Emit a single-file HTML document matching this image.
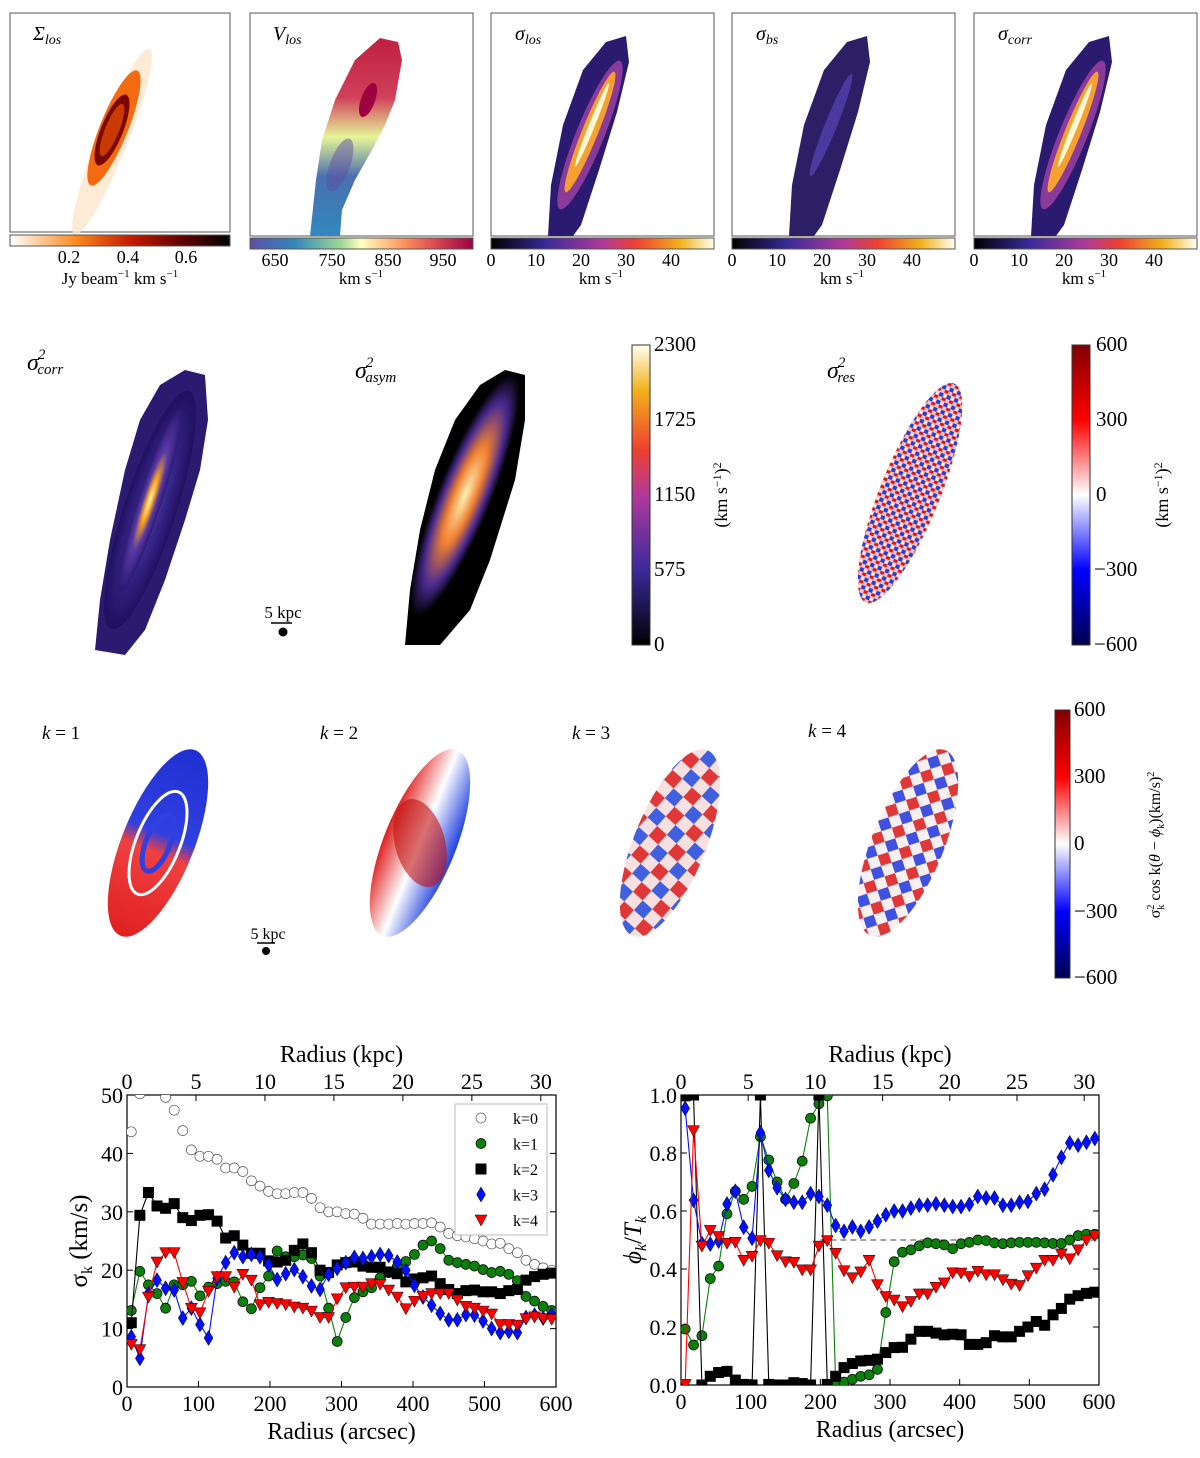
<!DOCTYPE html>
<html><head><meta charset="utf-8"><style>
body{margin:0;background:#fff}
svg{display:block;font-family:"Liberation Serif",serif}
</style></head><body>
<svg id="fig" width="1200" height="1458" viewBox="0 0 1200 1458" xmlns="http://www.w3.org/2000/svg">
<defs>
<linearGradient id="gOr" x1="0" x2="1"><stop offset="0" stop-color="#fff"/><stop offset="0.3" stop-color="#fb8a1e"/><stop offset="0.55" stop-color="#c41a00"/><stop offset="0.8" stop-color="#5a0000"/><stop offset="1" stop-color="#000"/></linearGradient>
<linearGradient id="gSp" x1="0" x2="1"><stop offset="0" stop-color="#5e4fa2"/><stop offset="0.2" stop-color="#3288bd"/><stop offset="0.4" stop-color="#99d594"/><stop offset="0.5" stop-color="#ffffbf"/><stop offset="0.7" stop-color="#fc8d59"/><stop offset="0.85" stop-color="#d53e4f"/><stop offset="1" stop-color="#9e0142"/></linearGradient>
<linearGradient id="gCm" x1="0" x2="1"><stop offset="0" stop-color="#000"/><stop offset="0.25" stop-color="#3a2a9a"/><stop offset="0.5" stop-color="#b03a9a"/><stop offset="0.65" stop-color="#ee4030"/><stop offset="0.85" stop-color="#f2b21c"/><stop offset="1" stop-color="#fffff0"/></linearGradient>
<linearGradient id="gCmV" x1="0" y1="1" x2="0" y2="0"><stop offset="0" stop-color="#000"/><stop offset="0.25" stop-color="#3a2a9a"/><stop offset="0.5" stop-color="#b03a9a"/><stop offset="0.65" stop-color="#ee4030"/><stop offset="0.85" stop-color="#f2b21c"/><stop offset="1" stop-color="#fffff0"/></linearGradient>
<linearGradient id="gSeV" x1="0" y1="1" x2="0" y2="0"><stop offset="0" stop-color="#00004c"/><stop offset="0.25" stop-color="#0000ff"/><stop offset="0.5" stop-color="#fff"/><stop offset="0.75" stop-color="#ff0000"/><stop offset="1" stop-color="#800000"/></linearGradient>
<linearGradient id="lVel" x1="0" y1="1" x2="0" y2="0"><stop offset="0" stop-color="#3288bd"/><stop offset="0.3" stop-color="#4a6fb0"/><stop offset="0.5" stop-color="#e6f598"/><stop offset="0.7" stop-color="#d0405a"/><stop offset="1" stop-color="#c02040"/></linearGradient>
<radialGradient id="rCm"><stop offset="0" stop-color="#fff8c0"/><stop offset="0.25" stop-color="#f5a020"/><stop offset="0.55" stop-color="#5a3aa8"/><stop offset="1" stop-color="#2a1a70"/></radialGradient>
<radialGradient id="rCmD"><stop offset="0" stop-color="#d070a0"/><stop offset="0.4" stop-color="#3a2a90"/><stop offset="1" stop-color="#201060"/></radialGradient>
<radialGradient id="rAs"><stop offset="0" stop-color="#fff0b0"/><stop offset="0.4" stop-color="#f08030"/><stop offset="0.75" stop-color="#4a2a90"/><stop offset="1" stop-color="#000"/></radialGradient>
<pattern id="pRes" width="8" height="8" patternUnits="userSpaceOnUse"><rect width="8" height="8" fill="#f4c0c0"/><rect x="0" y="0" width="4" height="3" fill="#d81818"/><rect x="4" y="4" width="4" height="4" fill="#2040e0"/><rect x="1" y="5" width="2" height="2" fill="#fff"/></pattern>
<linearGradient id="k1" x1="0" y1="1" x2="0" y2="0"><stop offset="0" stop-color="#e02020"/><stop offset="0.45" stop-color="#f04040"/><stop offset="0.55" stop-color="#3040e0"/><stop offset="1" stop-color="#2030d0"/></linearGradient>
<linearGradient id="k2" x1="0" y1="0" x2="1" y2="0"><stop offset="0" stop-color="#e02020"/><stop offset="0.5" stop-color="#fff"/><stop offset="1" stop-color="#2040e0"/></linearGradient>
<pattern id="k3" width="26" height="26" patternUnits="userSpaceOnUse" patternTransform="rotate(20)"><rect width="26" height="26" fill="#f8e0e0"/><rect width="13" height="13" fill="#4060e0"/><rect x="13" y="13" width="13" height="13" fill="#e03838"/></pattern>
<pattern id="k4" width="22" height="22" patternUnits="userSpaceOnUse" patternTransform="rotate(50)"><rect width="22" height="22" fill="#f8f0f0"/><rect width="11" height="11" fill="#e03838"/><rect x="11" y="11" width="11" height="11" fill="#4050e0"/></pattern>
<clipPath id="clipL"><rect x="127" y="1095" width="429" height="292"/></clipPath>
<clipPath id="clipR"><rect x="681" y="1095" width="418" height="290"/></clipPath>
</defs>

<!-- Top row -->
<g>
<rect x="10" y="13" width="220" height="219" fill="#fff" stroke="#555" stroke-width="1"/>
<ellipse cx="112" cy="142" rx="15" ry="100" transform="rotate(22 112 142)" fill="#fde6cc" opacity="0.8"/>
<ellipse cx="114" cy="128" rx="14" ry="62" transform="rotate(22 114 128)" fill="#f46a10"/>
<ellipse cx="112" cy="130" rx="11" ry="38" transform="rotate(22 112 130)" fill="#7a0800"/>
<ellipse cx="112" cy="130" rx="7" ry="28" transform="rotate(22 112 130)" fill="#c83a00"/>
<text x="33" y="40" font-size="20" font-style="italic">Σ<tspan font-size="14" dy="4">los</tspan></text>
<rect x="10" y="235" width="220" height="11" fill="url(#gOr)" stroke="#555"/>
<text font-size="18" text-anchor="middle" y="263"><tspan x="69">0.2</tspan><tspan x="128">0.4</tspan><tspan x="186">0.6</tspan></text>
<text x="120" y="284" font-size="17" text-anchor="middle">Jy beam<tspan font-size="11" dy="-7">−1</tspan><tspan dy="7"> km s</tspan><tspan font-size="11" dy="-7">−1</tspan></text>
</g>
<g>
<rect x="250" y="13" width="223" height="223" fill="#fff" stroke="#555"/>
<path d="M310,236 L316,180 L322,140 L335,100 L355,60 L380,38 L398,42 L402,60 L395,100 L385,125 L372,150 L355,180 L342,210 L340,236 Z" fill="url(#lVel)"/>
<ellipse cx="368" cy="100" rx="7" ry="18" transform="rotate(20 368 100)" fill="#9e0142"/>
<ellipse cx="340" cy="165" rx="10" ry="28" transform="rotate(20 340 165)" fill="#5e4fa2" opacity="0.5"/>
<text x="273" y="40" font-size="20" font-style="italic">V<tspan font-size="14" dy="4">los</tspan></text>
<rect x="250" y="238" width="223" height="11" fill="url(#gSp)" stroke="#555"/>
<text font-size="18" text-anchor="middle" y="266"><tspan x="275">650</tspan><tspan x="332">750</tspan><tspan x="388">850</tspan><tspan x="443">950</tspan></text>
<text x="361" y="284" font-size="17" text-anchor="middle">km s<tspan font-size="11" dy="-7">−1</tspan></text>
</g>
<g id="disp"></g>

<!-- Middle row -->
<g>
<path d="M95,650 L100,600 L110,540 L125,470 L140,420 L160,385 L185,370 L205,375 L208,420 L200,470 L185,520 L165,580 L145,630 L125,655 Z" fill="#2a1a70"/>
<ellipse cx="150" cy="510" rx="26" ry="125" transform="rotate(18 150 510)" fill="url(#rCmD)"/>
<ellipse cx="150" cy="500" rx="12" ry="95" transform="rotate(18 150 500)" fill="url(#rCm)"/>
<text x="27" y="370" font-size="24" font-style="italic">σ<tspan font-size="15" dx="-1" dy="-11">2</tspan><tspan font-size="15" dx="-8" dy="15">corr</tspan></text>
<text x="283" y="618" font-size="17" text-anchor="middle">5 kpc</text>
<line x1="271" y1="623" x2="292" y2="623" stroke="#000" stroke-width="1.5"/>
<circle cx="283" cy="632" r="4.5" fill="#000"/>
</g>
<g>
<path d="M405,645 L410,590 L420,530 L435,470 L455,420 L480,385 L505,370 L525,375 L525,420 L515,480 L490,560 L470,610 L440,645 Z" fill="#000"/>
<ellipse cx="465" cy="495" rx="27" ry="130" transform="rotate(22 465 495)" fill="url(#rAs)"/>
<text x="355" y="378" font-size="24" font-style="italic">σ<tspan font-size="15" dx="-1" dy="-11">2</tspan><tspan font-size="15" dx="-8" dy="15">asym</tspan></text>
<rect x="632" y="345" width="18" height="300" fill="url(#gCmV)" stroke="#333"/>
<text font-size="21" x="654"><tspan y="351">2300</tspan><tspan x="654" y="426">1725</tspan><tspan x="654" y="501">1150</tspan><tspan x="654" y="576">575</tspan><tspan x="654" y="651">0</tspan></text>
<text transform="translate(727 495) rotate(-90)" font-size="18" text-anchor="middle">(km s<tspan font-size="12" dy="-6">−1</tspan><tspan dy="6">)</tspan><tspan font-size="12" dy="-6">2</tspan></text>
</g>
<g>
<ellipse cx="910" cy="493" rx="30" ry="118" transform="rotate(22 910 493)" fill="url(#pRes)"/>
<text x="827" y="378" font-size="24" font-style="italic">σ<tspan font-size="15" dx="-1" dy="-11">2</tspan><tspan font-size="15" dx="-8" dy="15">res</tspan></text>
<rect x="1072" y="345" width="18" height="300" fill="url(#gSeV)" stroke="#333"/>
<text font-size="21" x="1096"><tspan y="351">600</tspan><tspan x="1096" y="426">300</tspan><tspan x="1096" y="501">0</tspan><tspan x="1094" y="576">−300</tspan><tspan x="1094" y="651">−600</tspan></text>
<text transform="translate(1168 495) rotate(-90)" font-size="18" text-anchor="middle">(km s<tspan font-size="12" dy="-6">−1</tspan><tspan dy="6">)</tspan><tspan font-size="12" dy="-6">2</tspan></text>
</g>

<!-- Third row -->
<g>
<ellipse cx="158" cy="843" rx="36" ry="100" transform="rotate(22 158 843)" fill="url(#k1)"/>
<ellipse cx="158" cy="843" rx="22" ry="55" transform="rotate(22 158 843)" fill="none" stroke="#fff" stroke-width="3"/>
<ellipse cx="158" cy="843" rx="12" ry="30" transform="rotate(22 158 843)" fill="none" stroke="#3040e0" stroke-width="5"/>
<text x="42" y="739" font-size="19" font-style="italic">k<tspan font-style="normal"> = 1</tspan></text>
<text x="268" y="939" font-size="16" text-anchor="middle">5 kpc</text>
<line x1="257" y1="943" x2="275" y2="943" stroke="#000" stroke-width="1.5"/>
<circle cx="266" cy="951" r="4" fill="#000"/>
<ellipse cx="420" cy="843" rx="36" ry="100" transform="rotate(22 420 843)" fill="url(#k2)"/>
<ellipse cx="420" cy="843" rx="25" ry="45" transform="rotate(-15 420 843)" fill="#c01010" opacity="0.6"/>
<text x="320" y="739" font-size="19" font-style="italic">k<tspan font-style="normal"> = 2</tspan></text>
<ellipse cx="670" cy="843" rx="36" ry="100" transform="rotate(22 670 843)" fill="url(#k3)"/>
<text x="572" y="739" font-size="19" font-style="italic">k<tspan font-style="normal"> = 3</tspan></text>
<ellipse cx="908" cy="843" rx="36" ry="100" transform="rotate(22 908 843)" fill="url(#k4)"/>
<text x="808" y="737" font-size="19" font-style="italic">k<tspan font-style="normal"> = 4</tspan></text>
<rect x="1055" y="710" width="15" height="268" fill="url(#gSeV)" stroke="#333"/>
<text font-size="21" x="1074"><tspan y="716">600</tspan><tspan x="1074" y="783">300</tspan><tspan x="1074" y="850">0</tspan><tspan x="1074" y="918">−300</tspan><tspan x="1074" y="984">−600</tspan></text>
<text transform="translate(1160 845) rotate(-90)" font-size="16" text-anchor="middle">σ<tspan font-size="10" dy="4">k</tspan><tspan font-size="10" dx="-5" dy="-10">2</tspan><tspan dy="6"> cos k(</tspan><tspan font-style="italic">θ</tspan> − <tspan font-style="italic">ϕ</tspan><tspan font-size="10" dy="4">k</tspan><tspan dy="-4">)(km/s)</tspan><tspan font-size="10" dy="-6">2</tspan></text>
</g>

<g id="chartL"></g>
<g id="chartR"></g>
</svg>
<script>
const radii = [];
for (let i = 0; i < 50; i++) radii.push(6 + 12 * i);
const sigK0 = [43.7,50.2,52,51,49.6,47.4,43.9,40.6,39.5,39.5,39,37.5,37.5,36.9,35.3,34.4,33.5,33.1,33.1,33.3,33.3,32.3,30.7,30,30,29.7,29.6,28.9,27.9,27.9,27.9,28,27.9,28,28,28.1,27.4,26.3,25.9,25.7,25.4,25,24.5,24.6,23.7,23,21.7,21,20.4,20];
const sigK1 = [13.1,19.8,17.5,16,13.5,17.5,17.5,18.1,15.6,17.1,17.7,18.1,18,14.6,13.4,17,19,23.3,22.3,22.3,22.6,22,19,13.5,7.8,11.9,15.3,16.3,17,18.7,19.6,20.6,21.5,22.7,24.3,25,23.7,21.7,21.3,21,20.7,20.1,19.6,19.8,19.3,18.2,15.5,14.7,13.8,13.1];
const sigK2 = [11,29.4,33.3,31,30.6,31.4,29,28.5,29.4,29.5,28.4,25.5,25.9,24.3,22.9,22.9,21.6,21.4,21.7,23.4,24.5,23,20,19.6,20.9,21.3,21.4,20.7,20.5,20.5,19.7,19.4,18,18.5,18.7,19,17.7,16.7,16,16.5,16.6,16.3,16.3,16,16.5,16.7,18.3,18.9,19.3,19.5];
const sigK3 = [8.6,4.9,16,18.3,16.9,16.6,11.8,13.5,10.7,8.4,18.6,21.3,23,22.3,22.7,22.3,20.9,18.4,19.4,20.1,18.9,17.3,16.7,19.3,20.3,21.3,22.2,22,22.3,22.7,22.5,21.4,20,17.4,15.4,14,12.6,11.5,11.5,12.4,12.3,11.3,10,9.3,9.5,9.3,11.9,12.3,11.8,12.4];
const sigK4 = [7.3,6.4,15.4,21.4,23,23,17.9,13.5,12.7,16.4,18.9,18.9,17.1,19.3,18.3,14.1,14.5,14.3,14.1,13.7,13.5,13,11.9,11.9,15.1,17,17.1,17.1,17.7,17.6,16.6,15.4,13.4,14.7,15.5,16,16,16,14.9,13.8,13.5,13,12.5,10.7,10.7,10.6,11.7,12,11.7,11.6];
const phK1 = [0.193,0.138,0.17,0.367,0.41,0.59,0.668,0.64,0.685,0.856,0.776,0.7,0.64,0.695,0.772,0.92,0.97,0.997,0.002,0.01,0.02,0.03,0.035,0.054,0.25,0.425,0.458,0.466,0.48,0.49,0.487,0.483,0.47,0.487,0.492,0.5,0.498,0.49,0.487,0.49,0.492,0.492,0.492,0.49,0.488,0.488,0.5,0.515,0.52,0.52];
const phK2 = [0.997,1.0,0.0,0.03,0.043,0.047,0.017,0.002,0,1.0,0.002,0,0,0.008,0.005,0,1.0,0.002,0.03,0.06,0.074,0.083,0.085,0.089,0.112,0.129,0.13,0.158,0.185,0.185,0.179,0.173,0.175,0.173,0.14,0.14,0.146,0.17,0.166,0.166,0.185,0.2,0.219,0.206,0.242,0.264,0.296,0.308,0.316,0.32];
const phK3 = [0.954,0.637,0.488,0.486,0.496,0.624,0.668,0.544,0.506,0.87,0.74,0.68,0.64,0.63,0.63,0.66,0.65,0.62,0.55,0.53,0.545,0.53,0.545,0.565,0.587,0.6,0.6,0.61,0.62,0.62,0.625,0.62,0.615,0.615,0.623,0.65,0.645,0.645,0.62,0.62,0.63,0.633,0.66,0.675,0.725,0.785,0.835,0.827,0.837,0.85];
const phK4 = [0.002,0.877,0.479,0.533,0.512,0.489,0.492,0.43,0.444,0.498,0.489,0.446,0.425,0.423,0.397,0.397,0.479,0.498,0.454,0.394,0.37,0.39,0.43,0.346,0.305,0.293,0.27,0.288,0.314,0.314,0.337,0.352,0.387,0.386,0.374,0.392,0.38,0.38,0.363,0.348,0.343,0.377,0.403,0.43,0.43,0.452,0.435,0.466,0.5,0.515];
const xTicks = [0,100,200,300,400,500,600];
const kpcTicks = [0,5,10,15,20,25,30];
const sigTicks = [0,10,20,30,40,50];
const phTicks = [0.0,0.2,0.4,0.6,0.8,1.0];
const legendLabels = ["k=0","k=1","k=2","k=3","k=4"];
const dispTitles = ["los","bs","corr"];

const NS = "http://www.w3.org/2000/svg";
function mk(tag, attrs, parent) {
  const e = document.createElementNS(NS, tag);
  for (const k in attrs) e.setAttribute(k, attrs[k]);
  parent.appendChild(e);
  return e;
}

const disp = document.getElementById('disp');
[491, 732, 974].forEach((x0, j) => {
  const g = mk('g', {}, disp);
  
  
  mk('rect', {x: x0, y: 13, width: 223, height: 223, fill: '#fff', stroke: '#555'}, g);
  const cx = x0 + 105;
  mk('path', {d: `M${x0+57},236 L${x0+60},185 L${x0+72},125 L${x0+92},70 L${x0+115},42 L${x0+135},36 L${x0+138},62 L${x0+126},112 L${x0+108},170 L${x0+90},225 L${x0+82},236 Z`, fill: j === 1 ? '#2c1f66' : '#2a1a70'}, g);
  if (j !== 1) {
    mk('ellipse', {cx: cx - 6, cy: 135, rx: 14, ry: 80, transform: `rotate(22 ${cx-6} 135)`, fill: '#8a3a9a'}, g);
    mk('ellipse', {cx: cx - 6, cy: 132, rx: 8, ry: 65, transform: `rotate(22 ${cx-6} 132)`, fill: '#f5a030'}, g);
    mk('ellipse', {cx: cx - 4, cy: 125, rx: 3, ry: 45, transform: `rotate(22 ${cx-4} 125)`, fill: '#fff8d0'}, g);
  } else {
    mk('ellipse', {cx: cx - 6, cy: 125, rx: 6, ry: 55, transform: `rotate(22 ${cx-6} 125)`, fill: '#4a3aa0'}, g);
  }
  const t = mk('text', {x: x0 + 24, y: 40, 'font-size': 20, 'font-style': 'italic'}, g);
  t.innerHTML = 'σ<tspan font-size="14" dy="4">' + dispTitles[j] + '</tspan>';
  const cb = mk('rect', {x: x0, y: 238, width: 223, height: 11, fill: 'url(#gCm)', stroke: '#555'}, g);
  
  
  [0, 10, 20, 30, 40].forEach(v => {
    const tt = mk('text', {x: x0 + v * 4.5, y: 266, 'font-size': 18, 'text-anchor': 'middle'}, g);
    tt.textContent = v;
  });
  const u = mk('text', {x: x0 + 110, y: 284, 'font-size': 17, 'text-anchor': 'middle'}, g);
  u.innerHTML = 'km s<tspan font-size="11" dy="-7">−1</tspan>';
});

function drawMarker(g, type, x, y, color) {
  let m;
  if (type === 'o') m = mk('circle', {cx: x, cy: y, r: 5, fill: color === 'none' ? '#fff' : color, stroke: color === 'none' ? '#555' : '#000', 'stroke-width': 0.7}, g);
  else if (type === 's') m = mk('rect', {x: x - 5.5, y: y - 5.5, width: 11, height: 11, fill: color}, g);
  else if (type === 'd') m = mk('path', {d: `M${x},${y-7.5} L${x+4.5},${y} L${x},${y+7.5} L${x-4.5},${y} Z`, fill: color, stroke: '#000', 'stroke-width': 0.5}, g);
  else m = mk('path', {d: `M${x-6},${y-5} L${x+6},${y-5} L${x},${y+6} Z`, fill: color, stroke: '#000', 'stroke-width': 0.5}, g);
  return m;
}

function chart(id, X0, X1, Y0, Y1, ymax, yTicks, yFmt, series, yLabel, clip, dashed) {
  const root = document.getElementById(id);
  const xs = v => X0 + (v / 600) * (X1 - X0);
  const ys = v => Y0 - (v / ymax) * (Y0 - Y1);
  const ax = mk('g', {}, root);
  
  
  mk('rect', {x: X0, y: Y1, width: X1 - X0, height: Y0 - Y1, fill: '#fff', stroke: '#000', 'stroke-width': 1.2}, ax);
  xTicks.forEach(v => {
    const x = xs(v);
    mk('line', {x1: x, x2: x, y1: Y0, y2: Y0 - 6, stroke: '#000'}, ax);
    const t = mk('text', {x: x, y: Y0 + 24, 'font-size': 22, 'text-anchor': 'middle'}, ax);
    t.textContent = v;
  });
  kpcTicks.forEach(v => {
    const x = xs(v * 600 / 31.1);
    mk('line', {x1: x, x2: x, y1: Y1, y2: Y1 + 6, stroke: '#000'}, ax);
    const t = mk('text', {x: x, y: Y1 - 6, 'font-size': 22, 'text-anchor': 'middle'}, ax);
    t.textContent = v;
  });
  yTicks.forEach(v => {
    const y = ys(v);
    mk('line', {x1: X0, x2: X0 + 6, y1: y, y2: y, stroke: '#000'}, ax);
    mk('line', {x1: X1, x2: X1 - 6, y1: y, y2: y, stroke: '#000'}, ax);
    const t = mk('text', {x: X0 - 4, y: y + 8, 'font-size': 22, 'text-anchor': 'end'}, ax);
    t.textContent = yFmt(v);
  });
  const xl = mk('text', {x: (X0 + X1) / 2, y: Y0 + 52, 'font-size': 24, 'text-anchor': 'middle'}, ax);
  xl.textContent = 'Radius (arcsec)';
  
  const tl = mk('text', {x: (X0 + X1) / 2, y: Y1 - 33, 'font-size': 24, 'text-anchor': 'middle'}, ax);
  tl.textContent = 'Radius (kpc)';
  
  const yl = mk('text', {transform: `translate(${X0 - 40} ${(Y0 + Y1) / 2}) rotate(-90)`, 'font-size': 25, 'text-anchor': 'middle'}, ax);
  yl.innerHTML = yLabel;
  
  const pg = mk('g', {'clip-path': `url(#${clip})`}, root);
  if (dashed) mk('line', {x1: xs(200), x2: X1, y1: ys(0.5), y2: ys(0.5), stroke: '#444', 'stroke-dasharray': '6,4'}, pg);
  series.forEach(s => {
    const sg = mk('g', {}, pg);
    
    
    if (s.line) {
      const pts = s.vals.map((v, i) => xs(radii[i]) + ',' + ys(v)).join(' ');
      mk('polyline', {points: pts, fill: 'none', stroke: s.line, 'stroke-width': 1.1}, sg);
    }
    s.vals.forEach((v, i) => {
      const m = drawMarker(sg, s.type, xs(radii[i]), ys(v), s.color);
      
      
    });
  });
}

chart('chartL', 127, 556, 1387, 1095, 50, sigTicks, v => v, [
  {name: 'k0', vals: sigK0, type: 'o', color: 'none', line: null},
  {name: 'k1', vals: sigK1, type: 'o', color: '#0a800a', line: '#0a800a'},
  {name: 'k2', vals: sigK2, type: 's', color: '#000', line: '#000'},
  {name: 'k3', vals: sigK3, type: 'd', color: '#0010ff', line: '#0010ff'},
  {name: 'k4', vals: sigK4, type: 'v', color: '#ff0000', line: '#ff0000'}
], 'σ<tspan font-size="16" dy="5">k</tspan><tspan dy="-5"> (km/s)</tspan>', 'clipL', false);

chart('chartR', 681, 1099, 1385, 1095, 1.0, phTicks, v => v.toFixed(1), [
  {name: 'k1', vals: phK1, type: 'o', color: '#0a800a', line: '#0a800a'},
  {name: 'k2', vals: phK2, type: 's', color: '#000', line: '#000'},
  {name: 'k3', vals: phK3, type: 'd', color: '#0010ff', line: '#0010ff'},
  {name: 'k4', vals: phK4, type: 'v', color: '#ff0000', line: '#ff0000'}
], '<tspan font-style="italic">ϕ</tspan><tspan font-size="16" dy="5" font-style="italic">k</tspan><tspan dy="-5">/</tspan><tspan font-style="italic">T</tspan><tspan font-size="16" dy="5" font-style="italic">k</tspan>', 'clipR', true);

const lg = mk('g', {}, document.getElementById('chartL'));


mk('rect', {x: 455, y: 1104, width: 92, height: 131, fill: '#fff', stroke: '#bbb'}, lg);
const legTypes = [['o','none'],['o','#0a800a'],['s','#000'],['d','#0010ff'],['v','#ff0000']];
legendLabels.forEach((lab, i) => {
  const y = 1118 + i * 25.5;
  const e = mk('g', {}, lg);
  
  
  drawMarker(e, legTypes[i][0], 481, y, legTypes[i][1]);
  const t = mk('text', {x: 513, y: y + 6, 'font-size': 16}, e);
  t.textContent = lab;
});
</script>
</body></html>
